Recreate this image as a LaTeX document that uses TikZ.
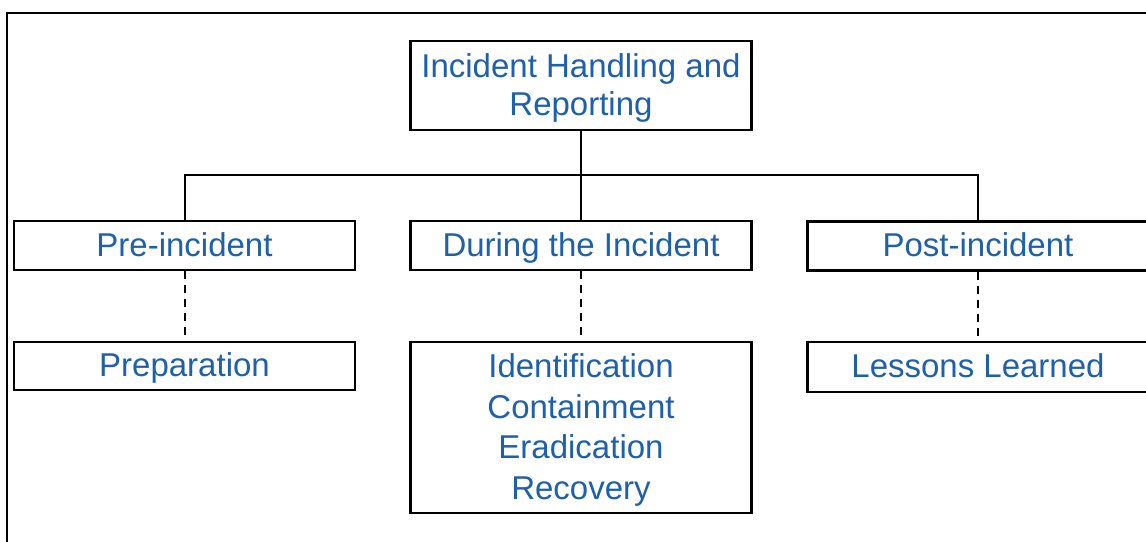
\documentclass[tikz,border=0pt]{standalone}
\usepackage{fontspec}
\setmainfont{Liberation Sans}
\definecolor{labelblue}{RGB}{30,96,172}
\begin{document}
\begin{tikzpicture}[x=1pt,y=-1pt,
  box/.style={draw=black,line width=2.8pt,fill=white,minimum width=341pt,inner sep=0pt},
  txt/.style={inner sep=0pt,align=center,text=labelblue,yshift=-2.5pt,
    font=\fontsize{33}{40.5}\selectfont},
  boxtext/.style={label={[txt,yshift=0.5pt,text height=24pt,text depth=7pt]center:{#1}}},
  boxlines/.style={label={[txt]center:{#1}}},
  link/.style={line width=2pt},
  dashlink/.style={line width=2pt,dash pattern=on 8pt off 6pt}]
  \useasboundingbox (0,0) rectangle (1146,541);
  \clip (0,0) rectangle (1146,541);
  \fill[white] (0,0) rectangle (1146,541);
  % outer frame, running past the page on the right and bottom
  \draw[line width=2pt] (7,13) rectangle (1170,570);

  % anchor points of the tree
  \coordinate (bus) at (581,175);
  \coordinate (topc) at (581,85.5);
  \coordinate (prec) at (184.5,245.5);
  \coordinate (durc) at (581,245.5);
  \coordinate (postc) at (978,246);

  % boxes with their captions
  \node[box,minimum height=89pt,
    label={[txt,font=\fontsize{33}{38}\selectfont]center:{Incident Handling and\\Reporting}}] (top) at (topc) {};
  \node[box,minimum height=49pt,boxtext={Pre-incident}] (pre) at (prec) {};
  \node[box,minimum height=49pt,boxtext={During the Incident}] (during) at (durc) {};
  \node[box,minimum height=49pt,boxtext={Post-incident}] (post) at (postc) {};
  \node[box,minimum height=48pt,boxtext={Preparation}] (prep) at (184.5,366) {};
  \node[box,minimum height=171pt,
    boxlines={Identification\\Containment\\Eradication\\Recovery}] (phases) at (581,427.5) {};
  \node[box,minimum height=50pt,boxtext={Lessons Learned}] (lessons) at (978,367) {};

  % tree links
  \draw[link] (top.south) -- (during.north);
  \draw[link] (pre.north) |- (bus) -| (post.north);
  \draw[dashlink] (pre.south) -- (prep.north);
  \draw[dashlink] (during.south) -- (phases.north);
  \draw[dashlink] (post.south) -- (lessons.north);
\end{tikzpicture}
\end{document}
